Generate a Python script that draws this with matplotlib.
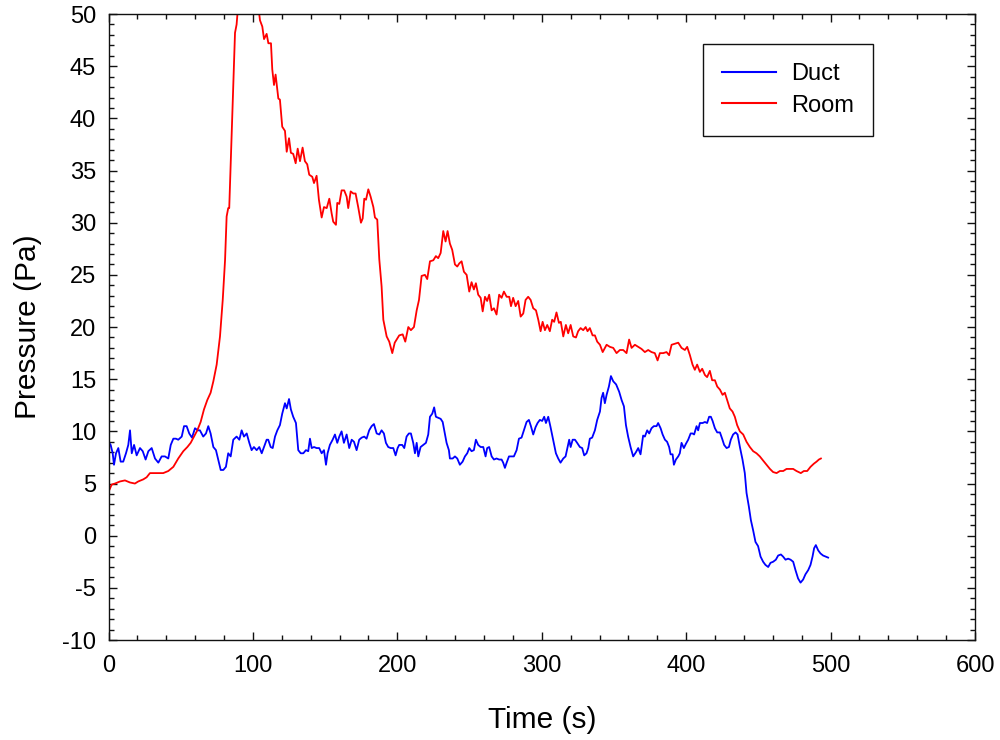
import matplotlib
matplotlib.use("Agg")
import matplotlib.pyplot as plt
from matplotlib.ticker import MultipleLocator

plt.rcParams["font.family"] = ["Liberation Sans", "DejaVu Sans"]
plt.rcParams["axes.unicode_minus"] = False

# Room pressure record (time in s, pressure in Pa)
room_time = [0, 2.2, 4.5, 8, 11.4, 14.9, 18.3, 20.6, 24.1, 26.4, 28.7, 33.4, 37.9, 41.4,
             44.9, 48.3, 51.8, 54.6, 56.9, 59.2, 61.5, 63.8, 66.1, 68.4, 70.7, 72.6, 74.9,
             77.2, 79.1, 80.7, 81.8, 82.9, 83.6, 87.6, 88.7, 89.6, 91, 94, 98, 101, 103.5,
             104.9, 106.5, 107.7, 109.5, 110.7, 112.5, 113.4, 114.6, 115.7, 117.6, 118.7,
             120.3, 122.2, 123.4, 125.0, 126.3, 127.9, 129.6, 131.0, 132.6, 134.4, 136.0,
             137.6, 139.0, 141.1, 142.3, 144.1, 145.7, 147.6, 149.2, 151.1, 152.9, 154.5,
             155.6, 157.5, 158.4, 159.8, 161.4, 163.2, 164.9, 166.0, 167.7, 169.5, 171.1,
             172.9, 174.8, 176.0, 177.1, 178.3, 179.9, 181.5, 183.4, 184.5, 186.1, 187.5,
             189.1, 190.3, 192.6, 194.4, 196.5, 198.2, 201.3, 203.7, 205.5, 207.6, 209.4,
             211.5, 213.4, 215.0, 216.8, 219.1, 220.7, 222.6, 224.9, 226.7, 228.3, 230.0,
             231.8, 233.4, 234.8, 236.4, 238.0, 239.9, 241.5, 242.9, 244.5, 246.1, 248.0,
             249.8, 251.4, 253.0, 254.4, 256.0, 257.7, 259.1, 260.7, 262.2, 263.6, 265.3,
             266.9, 268.7, 270.5, 272.2, 273.8, 275.7, 277.5, 278.7, 280.2, 281.9, 283.7,
             285.4, 287.2, 288.8, 290.6, 292.3, 294.1, 296.0, 297.6, 299.2, 300.6, 302.2,
             303.8, 305.6, 307.2, 308.6, 310.2, 311.9, 313.2, 314.9, 316.7, 318.3, 320.0,
             321.8, 323.7, 325.2, 326.9, 328.7, 330.4, 331.7, 333.3, 335.2, 336.8, 338.4,
             340.3, 342.2, 344.9, 347.2, 349.5, 351.8, 354.1, 356.4, 358.7, 360.5, 362.2,
             364.5, 366.8, 369.1, 371.4, 373.7, 376.0, 378.3, 380.2, 381.8, 384.1, 386.4,
             388.2, 389.9, 392.2, 394.5, 396.8, 399.1, 400.7, 402.6, 404.4, 406.0, 407.6,
             409.5, 411.1, 413.0, 414.5, 416.4, 418.0, 419.9, 421.5, 423.4, 425.2, 426.8,
             428.4, 430.2, 432.1, 433.7, 435.3, 437.2, 439.5, 441.8, 444.1, 446.4, 448.7,
             451.0, 453.3, 455.7, 458.0, 460.2, 462.6, 464.9, 467.2, 469.5, 471.8, 474.1,
             476.4, 479.4, 481.5, 483.8, 486.1, 488.4, 490.3, 491.9, 493.3]
room_pa = [4.2, 4.9, 5.0, 5.2, 5.3, 5.1, 5.0, 5.2, 5.4, 5.6, 6.0, 6.0, 6.0, 6.2,
           6.6, 7.4, 8.1, 8.5, 8.9, 9.5, 10.1, 10.9, 12.1, 13.0, 13.7, 14.8, 16.4,
           19.1, 22.6, 26.4, 30.6, 31.4, 31.4, 48.2, 49.0, 50.5, 53, 55, 55, 53, 51,
           49.4, 48.8, 47.6, 48.1, 47.2, 47.2, 44.7, 43.2, 44.2, 41.9, 41.8,
           39.2, 38.8, 36.8, 38.1, 36.7, 36.6, 35.7, 37.1, 35.9, 37.2, 35.9,
           35.6, 34.6, 34.4, 33.8, 34.5, 32.2, 30.5, 31.5, 31.4, 32.3, 30.9,
           30.1, 29.8, 31.9, 31.8, 33.1, 33.1, 32.5, 31.4, 33.0, 32.8, 32.8,
           31.5, 30.0, 30.4, 32.3, 32.2, 33.2, 32.5, 31.5, 30.5, 30.3, 26.5,
           23.9, 20.7, 19.1, 18.6, 17.5, 18.5, 19.2, 19.3, 18.6, 20.0, 19.7,
           20.0, 21.6, 22.6, 24.9, 25.0, 24.6, 26.3, 26.4, 26.8, 26.6, 27.1,
           29.2, 28.2, 29.2, 28.0, 27.4, 26.0, 25.8, 26.1, 26.3, 25.3, 25.0,
           23.4, 24.3, 23.6, 24.2, 23.1, 22.8, 21.5, 22.9, 22.5, 23.1, 21.6,
           21.8, 21.2, 23.1, 22.8, 23.4, 22.9, 22.9, 22.0, 22.8, 22.0, 22.5,
           21.0, 21.3, 22.6, 22.9, 22.6, 21.8, 21.6, 20.7, 19.6, 20.5, 19.7,
           20.2, 19.6, 20.7, 20.5, 21.4, 20.4, 20.5, 19.1, 20.2, 19.4, 20.2,
           19.1, 19.0, 19.6, 19.9, 19.7, 20.0, 19.6, 19.9, 19.2, 19.2, 18.6,
           18.3, 17.6, 18.3, 18.1, 18.0, 17.5, 17.8, 17.8, 17.5, 18.8, 18.0,
           18.3, 18.1, 17.9, 17.6, 17.8, 17.6, 17.5, 16.8, 17.5, 17.5, 17.6,
           17.3, 18.3, 18.4, 18.5, 18.0, 17.8, 18.1, 17.3, 16.4, 15.9, 16.4,
           15.7, 16.0, 15.4, 15.2, 15.8, 14.9, 14.9, 14.3, 14.0, 13.5, 13.7,
           13.0, 12.2, 11.9, 11.4, 10.6, 10.0, 9.7, 9.0, 8.5, 8.1, 7.9,
           7.6, 7.2, 6.8, 6.4, 6.1, 6.0, 6.2, 6.2, 6.4, 6.4, 6.4,
           6.2, 6.0, 6.2, 6.2, 6.6, 6.9, 7.1, 7.3, 7.4]

# Duct pressure record (time in s, pressure in Pa)
duct_time = [0, 1.5, 2.9, 3.8, 5.2, 6.8, 8.4, 10.2, 12.1, 13.7, 14.9, 16.1, 17.7, 19.5,
             21.8, 23.7, 25.7, 27.6, 29.9, 32.2, 34.5, 36.8, 39.1, 41.4, 43.1, 44.9, 46.7,
             48.3, 50.7, 52.3, 54.1, 55.9, 57.8, 59.9, 61.8, 63.3, 65.6, 67.5, 69.1, 70.7,
             72.6, 74.4, 76.0, 77.7, 79.5, 81.3, 82.9, 84.6, 86.4, 88.7, 90.6, 92.2, 93.8,
             95.7, 97.5, 99.1, 100.7, 102.6, 104.4, 106.1, 107.7, 109.5, 110.6, 112.3,
             113.7, 115.3, 116.9, 118.7, 120.3, 122.2, 123.4, 125.0, 126.3, 127.9, 129.8,
             131.4, 133.1, 134.9, 136.7, 138.3, 139.5, 140.7, 142.3, 144.1, 145.9, 147.6,
             149.2, 150.6, 151.7, 153.3, 155.2, 156.8, 158.4, 159.8, 161.4, 163.0, 164.9,
             166.7, 168.4, 170.0, 171.8, 173.6, 175.3, 177.1, 178.7, 180.5, 182.2, 183.8,
             185.7, 187.5, 189.1, 190.7, 192.1, 193.7, 195.4, 197.2, 198.8, 200.2, 201.3,
             203.4, 204.8, 206.4, 208.0, 209.4, 211.0, 212.2, 213.4, 214.5, 216.1, 217.9,
             219.8, 221.4, 222.6, 224.2, 225.5, 226.7, 228.3, 230.0, 231.4, 232.5, 234.1,
             235.7, 236.4, 238.3, 239.9, 241.5, 243.3, 245.2, 246.8, 248.4, 249.8, 251.4,
             253.0, 254.4, 256.0, 257.7, 259.5, 261.1, 262.2, 263.6, 265.3, 266.9, 268.7,
             270.5, 272.2, 273.3, 274.5, 275.7, 277.3, 279.1, 280.7, 282.6, 284.2, 286.0,
             287.6, 289.5, 291.1, 292.5, 294.1, 295.7, 297.1, 298.7, 300.3, 301.7, 302.9,
             304.5, 306.1, 307.9, 309.8, 311.4, 313.0, 314.9, 316.5, 317.9, 319.0, 320.0,
             321.4, 323.0, 324.5, 326.4, 328.0, 329.4, 331.0, 332.2, 333.3, 334.9, 336.8,
             338.4, 340.3, 341.4, 342.5, 343.7, 344.9, 346.5, 347.9, 349.5, 351.5, 353.6,
             355.3, 356.9, 358.3, 359.8, 361.5, 363.3, 365.2, 366.8, 368.4, 370.2, 371.4,
             373.0, 374.4, 376.0, 377.6, 379.5, 380.6, 382.3, 383.7, 385.3, 386.8, 388.2,
             389.2, 390.6, 391.5, 392.9, 394.5, 395.6, 396.8, 398.4, 399.8, 401.4, 403.1,
             404.4, 405.5, 407.2, 408.3, 409.5, 411.4, 413.0, 414.5, 415.9, 417.1, 418.3,
             419.9, 421.5, 423.4, 424.9, 426.3, 428.0, 429.6, 430.9, 432.5, 434.2, 435.6,
             437.2, 439.0, 440.6, 441.8, 443.4, 444.8, 446.4, 448.0, 449.8, 451.5, 453.3,
             454.9, 456.8, 458.4, 460.2, 462.1, 463.7, 465.6, 467.1, 468.8, 470.6, 472.3,
             474.1, 475.7, 477.5, 479.2, 481.0, 482.6, 484.5, 486.1, 487.5, 488.6, 489.8,
             491.4, 493.0, 494.8, 496.6, 498.3]
duct_pa = [9.0, 8.7, 7.9, 6.8, 7.9, 8.4, 7.1, 7.1, 7.9, 8.7, 10.1, 7.9, 8.7, 7.7,
           8.4, 8.1, 7.3, 8.1, 8.4, 7.4, 7.0, 7.6, 7.6, 7.4, 8.7, 9.3, 9.3,
           9.2, 9.5, 10.5, 10.5, 9.8, 9.4, 10.3, 10.1, 10.1, 9.5, 9.8, 10.5, 9.8,
           8.5, 8.2, 7.3, 6.3, 6.3, 6.6, 7.9, 7.6, 9.2, 9.5, 9.2, 10.1, 9.5,
           9.8, 8.9, 8.2, 8.5, 8.2, 8.5, 7.9, 8.5, 9.2, 9.2, 8.5,
           8.4, 9.5, 10.1, 10.6, 11.7, 12.7, 12.2, 13.1, 12.1, 11.4, 10.8,
           8.2, 7.9, 7.9, 8.2, 8.1, 9.3, 8.4, 8.5, 8.4, 8.4, 7.9,
           8.2, 6.8, 7.9, 8.7, 9.2, 9.7, 8.9, 9.5, 10.0, 8.9, 9.7,
           8.4, 9.2, 9.0, 8.2, 9.2, 9.4, 9.5, 9.3, 10.1, 10.5, 10.7,
           9.8, 9.7, 10.1, 9.8, 8.9, 8.5, 8.4, 8.4, 7.7, 8.4, 8.7,
           8.7, 8.4, 9.5, 9.8, 9.8, 8.9, 7.9, 8.9, 7.6, 8.5, 8.7,
           8.9, 9.7, 11.4, 11.7, 12.3, 11.4, 11.3, 11.2, 10.9, 10.1, 8.9,
           8.2, 7.4, 7.4, 7.6, 7.4, 6.8, 7.1, 7.6, 7.9, 8.4, 8.1,
           8.2, 9.2, 8.7, 8.5, 8.5, 7.6, 8.4, 8.5, 7.6, 7.3, 7.4,
           7.3, 7.3, 7.0, 6.5, 7.0, 7.6, 7.6, 7.6, 8.2, 9.3, 9.4,
           10.1, 10.9, 11.1, 10.5, 9.7, 10.4, 10.8, 11.1, 11.0, 11.4, 10.8,
           11.4, 10.4, 9.2, 7.9, 7.4, 7.0, 7.4, 7.6, 8.5, 9.2, 8.5,
           9.2, 9.2, 8.9, 8.5, 8.4, 7.7, 7.9, 8.4, 9.3, 9.4, 10.1,
           11.1, 11.9, 13.2, 13.7, 12.7, 13.5, 14.3, 15.3, 14.8, 14.5, 13.8,
           13.0, 12.4, 10.6, 9.5, 8.5, 7.6, 8.0, 8.4, 7.8, 9.6, 9.5,
           10.1, 9.8, 10.3, 10.5, 10.5, 10.8, 10.3, 9.7, 9.2, 9.0, 8.5,
           7.8, 7.8, 6.8, 7.3, 7.6, 7.9, 8.9, 8.4, 8.8, 9.2, 9.8,
           9.8, 9.7, 10.5, 10.1, 10.8, 10.8, 10.9, 10.8, 11.4, 11.4, 11.0,
           10.3, 9.9, 9.9, 9.3, 8.7, 8.4, 8.5, 9.2, 9.7, 9.9, 9.7,
           8.5, 7.3, 6.0, 4.1, 2.8, 1.5, 0.5, -0.6, -1.0, -2.0, -2.5,
           -2.8, -3.0, -2.6, -2.5, -2.3, -1.9, -1.8, -2.0, -2.3, -2.2, -2.3,
           -2.5, -3.3, -4.1, -4.5, -4.2, -3.7, -3.3, -2.8, -2.0, -1.2, -0.9,
           -1.4, -1.7, -1.9, -2.0, -2.1]

fig = plt.figure(figsize=(10, 7.4), dpi=100)
ax = fig.add_axes([0.1085, 0.1351, 0.8665, 0.8459])

ax.plot(duct_time, duct_pa, color="#0000FF", lw=1.3, label="Duct")
ax.plot(room_time, room_pa, color="#FF0000", lw=1.3, label="Room")

ax.set_xlim(0, 600)
ax.set_ylim(-10, 50)
ax.xaxis.set_major_locator(MultipleLocator(100))
ax.xaxis.set_minor_locator(MultipleLocator(20))
ax.yaxis.set_major_locator(MultipleLocator(5))
ax.yaxis.set_minor_locator(MultipleLocator(1))

for s in ax.spines.values():
    s.set_linewidth(1.0)
    s.set_color("#111111")

ax.tick_params(which="both", direction="in", top=True, right=True, color="#111111", width=1.0)
ax.tick_params(which="major", length=6)
ax.tick_params(which="minor", length=3.6)
ax.tick_params(axis="x", which="major", labelsize=17, pad=11)
ax.tick_params(axis="y", which="major", labelsize=17, pad=9)

ax.set_xlabel("Time (s)", fontsize=21.5)
ax.set_ylabel("Pressure (Pa)", fontsize=21.5)
ax.xaxis.set_label_coords(0.5, -0.105)
ax.yaxis.set_label_coords(-0.077, 0.5)

leg = ax.legend(loc="upper right", bbox_to_anchor=(0.8823, 0.9521), borderaxespad=0,
                fontsize=17, frameon=True, fancybox=False, framealpha=1,
                edgecolor="#111111", handlelength=2.3, handletextpad=0.65,
                borderpad=0.8, labelspacing=0.41)
leg.get_frame().set_linewidth(1.0)
for line in leg.get_lines():
    line.set_linewidth(1.5)

fig.savefig("out.png", dpi=100)
